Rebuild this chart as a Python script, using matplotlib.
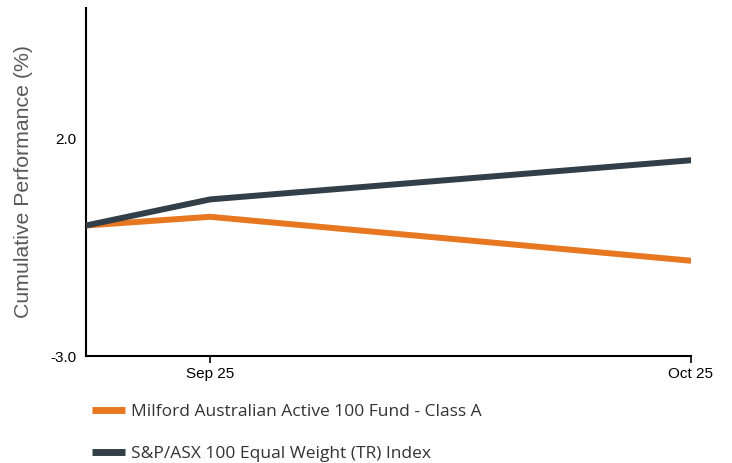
import matplotlib
matplotlib.use("Agg")
import matplotlib.pyplot as plt
import datetime as dt

dates = [dt.date(2025, 9, 22), dt.date(2025, 9, 30), dt.date(2025, 10, 31)]
fund = [0.0, 0.20, -0.81]
index = [0.0, 0.60, 1.50]
fund_label = "Milford Australian Active 100 Fund - Class A"
index_label = "S&P/ASX 100 Equal Weight (TR) Index"
xtick_dates = [dt.date(2025, 9, 30), dt.date(2025, 10, 31)]
xtick_labels = ["Sep 25", "Oct 25"]
ytick_vals = [-3.0, 2.0]

ORANGE = "#E87722"
DARK = "#333F48"

fig = plt.figure(figsize=(7.32, 4.63), dpi=100)
ax = fig.add_axes([86/732, 1-356/463, (691-86)/732, (356-8)/463])

l1, = ax.plot(dates, fund, color=ORANGE, lw=4.3, solid_capstyle="round", label=fund_label, zorder=3)
l2, = ax.plot(dates, index, color=DARK, lw=4.3, solid_capstyle="round", label=index_label, zorder=3)

ax.set_xlim(dates[0], xtick_dates[-1])
ax.set_ylim(-3, 5)
ax.set_yticks(ytick_vals)
ax.set_yticklabels([f"{v:.1f}" for v in ytick_vals], fontfamily="Liberation Sans", fontsize=11)
ax.set_xticks(xtick_dates)
ax.set_xticklabels(xtick_labels, fontfamily="Liberation Sans", fontsize=11)
ax.tick_params(axis="y", length=0, pad=7)
ax.tick_params(axis="x", length=5, width=1.2, pad=3, direction="out")
for s in ["top", "right"]:
    ax.spines[s].set_visible(False)
for s in ["left", "bottom"]:
    ax.spines[s].set_linewidth(1.5)
    ax.spines[s].set_color("black")

ax.set_ylabel("Cumulative Performance (%)", fontfamily="Liberation Sans", fontsize=15.3,
              color="#595959")
ax.yaxis.set_label_coords((33 - 86) / 605, 0.5)

leg = fig.legend(handles=[l1, l2], loc="upper left", bbox_to_anchor=(92/732, 1-404/463),
                 frameon=False, prop={"family": "Open Sans", "size": 12.5},
                 handlelength=1.9, handletextpad=0.35, labelspacing=1.5,
                 borderpad=0, borderaxespad=0)
for h in leg.get_lines():
    h.set_linewidth(5)
    h.set_solid_capstyle("butt")
for t in leg.get_texts():
    t.set_color("#333333")

fig.savefig("out.png", dpi=100)
